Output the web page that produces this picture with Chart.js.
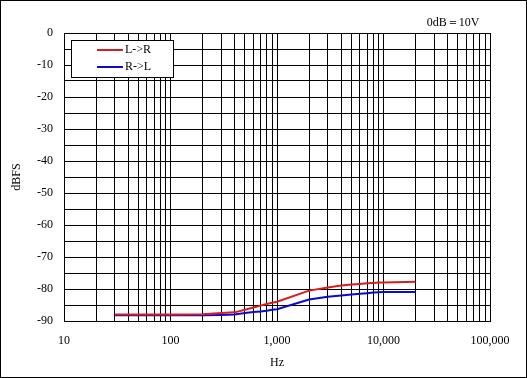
<!DOCTYPE html>
<html>
<head>
<meta charset="utf-8">
<script src="https://cdn.jsdelivr.net/npm/chart.js@4/dist/chart.umd.min.js"></script>
<style>
html,body{margin:0;padding:0;background:#fff;}
canvas{display:block;}
</style>
</head>
<body>
<canvas id="c" width="527" height="378"></canvas>
<script>
// ---- data ----
const freqsLR = [30, 40, 50, 60, 70, 80, 90, 100, 200, 300, 400, 500, 600, 700, 800, 900, 1000, 2000, 3000, 4000, 5000, 6000, 7000, 8000, 9000, 10000, 20000];
const valuesLR = [-88.0, -88.0, -88.0, -88.0, -88.0, -88.0, -88.0, -88.0, -87.9, -87.5, -87.3, -86.5, -85.8, -85.2, -84.7, -84.3, -84.0, -80.5, -79.5, -78.9, -78.6, -78.4, -78.2, -78.1, -78.0, -78.0, -77.7];
const freqsRL = [30, 40, 50, 60, 70, 80, 90, 100, 200, 300, 400, 500, 600, 700, 800, 900, 1000, 2000, 3000, 4000, 5000, 6000, 7000, 8000, 9000, 10000, 20000];
const valuesRL = [-88.2, -88.2, -88.2, -88.2, -88.2, -88.2, -88.2, -88.2, -88.2, -88.1, -88.0, -87.5, -87.2, -87.0, -86.8, -86.5, -86.3, -83.3, -82.4, -82.0, -81.7, -81.5, -81.3, -81.1, -81.0, -80.9, -80.9];
const seriesNames = ['L->R', 'R->L'];
const seriesColors = ['#dc1c1c', '#0a0ad2'];
const xTickValues = [10, 100, 1000, 10000, 100000];
const xTickLabels = ['10', '100', '1,000', '10,000', '100,000'];
const yMin = -90, yMax = 0, yGridStep = 5, yLabelStep = 10;
const noteText = '0dB\uFF1D10V';
const xTitle = 'Hz';
const yTitle = 'dBFS';

// grid positions for log axis: 1..9 x each decade
const xGrid = [];
for (let d = 10; d < 100000; d *= 10) { for (let m = 1; m < 10; m++) xGrid.push(m * d); }
xGrid.push(100000);

const FONT = '"Liberation Serif", "Times New Roman", serif';
Chart.defaults.font.family = FONT;
Chart.defaults.font.size = 12;
Chart.defaults.color = '#000';

const frame = {
  id: 'frame',
  beforeDraw(chart) {
    const c = chart.ctx;
    c.save();
    c.fillStyle = '#fff';
    c.fillRect(0, 0, chart.width, chart.height);
    c.restore();
  },
  afterDraw(chart) {
    const c = chart.ctx;
    c.save();
    c.strokeStyle = '#000';
    c.lineWidth = 1;
    c.strokeRect(0.5, 0.5, chart.width - 1, chart.height - 1);
    // note
    c.fillStyle = '#000';
    c.font = '12px ' + FONT;
    c.textAlign = 'center';
    c.textBaseline = 'middle';
    c.fillText(noteText, 453, 23);
    // legend box
    const lx = 71, ly = 40, lw = 102, lh = 37;
    c.fillStyle = '#fff';
    c.fillRect(lx, ly, lw, lh);
    c.strokeStyle = '#000';
    c.strokeRect(lx + 0.5, ly + 0.5, lw, lh);
    chart.data.datasets.forEach((ds, i) => {
      const y = 50 + i * 17;
      c.strokeStyle = ds.borderColor;
      c.lineWidth = 2;
      c.beginPath();
      c.moveTo(97, y);
      c.lineTo(123, y);
      c.stroke();
      c.fillStyle = '#000';
      c.textAlign = 'left';
      c.textBaseline = 'middle';
      c.fillText(ds.label, 125, y);
    });
    c.restore();
  }
};

new Chart(document.getElementById('c'), {
  type: 'line',
  data: {
    datasets: [
      { label: seriesNames[0], data: freqsLR.map((f, i) => ({ x: f, y: valuesLR[i] })), borderColor: seriesColors[0], backgroundColor: seriesColors[0], borderWidth: 2, pointRadius: 0, tension: 0, fill: false },
      { label: seriesNames[1], data: freqsRL.map((f, i) => ({ x: f, y: valuesRL[i] })), borderColor: seriesColors[1], backgroundColor: seriesColors[1], borderWidth: 2, pointRadius: 0, tension: 0, fill: false }
    ]
  },
  options: {
    responsive: false,
    animation: false,
    events: [],
    layout: { padding: { left: 0, top: 33, right: 37, bottom: 0 } },
    plugins: { legend: { display: false }, tooltip: { enabled: false } },
    scales: {
      x: {
        type: 'logarithmic',
        min: 10, max: 100000,
        afterBuildTicks(scale) { scale.ticks = xGrid.map(v => ({ value: v })); },
        afterFit(scale) { scale.height = 57; },
        ticks: {
          autoSkip: false, maxRotation: 0, minRotation: 0, padding: 13,
          font: { size: 12, family: FONT },
          callback(v) { const k = xTickValues.indexOf(v); return k >= 0 ? xTickLabels[k] : ''; }
        },
        grid: { color: '#000', lineWidth: 1, drawTicks: false },
        border: { display: true, color: '#000', width: 1 },
        title: { display: true, text: xTitle, padding: { top: 0, bottom: 8 }, font: { size: 12, family: FONT, lineHeight: 1.2 } }
      },
      y: {
        min: yMin, max: yMax,
        afterFit(scale) { scale.width = 64; },
        ticks: {
          stepSize: yGridStep, padding: 11, autoSkip: false,
          font: { size: 12, family: FONT },
          callback(v) { return (Math.round(v) % yLabelStep === 0) ? String(Math.round(v)) : ''; }
        },
        grid: { color: '#000', lineWidth: 1, drawTicks: false },
        border: { display: true, color: '#000', width: 1 },
        title: { display: true, text: yTitle, padding: { top: 10, bottom: 0 }, font: { size: 12, family: FONT, lineHeight: 1.2 } }
      }
    }
  },
  plugins: [frame]
});
</script>
</body>
</html>
